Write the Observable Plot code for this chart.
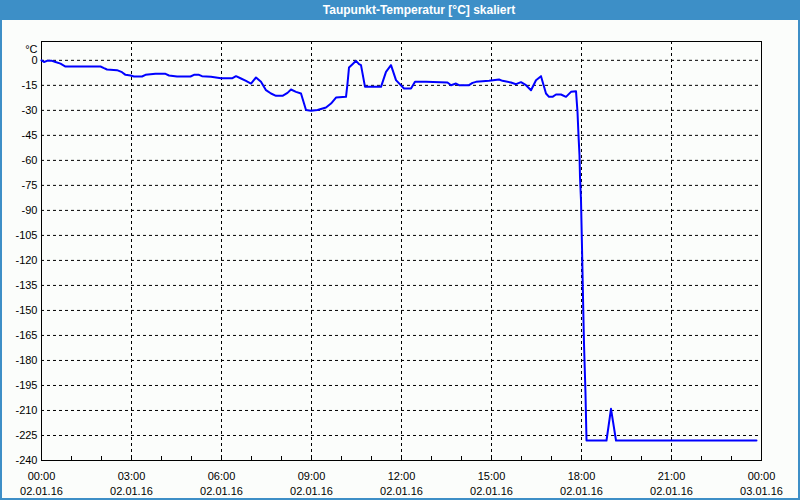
<!DOCTYPE html>
<html>
<head>
<meta charset="utf-8">
<script src="https://cdn.jsdelivr.net/npm/d3@7"></script>
<script src="https://cdn.jsdelivr.net/npm/@observablehq/plot@0.6"></script>
<style>
  html, body { margin: 0; padding: 0; background: #ffffff; }
  #wrap { position: relative; width: 800px; height: 500px; background: #fbfdfb; overflow: hidden; font-family: "Liberation Sans", Arial, sans-serif; }
  #titlebar { position: absolute; left: 0; top: 0; width: 800px; height: 20px; background: #3d8fc7; }
  #title { position: absolute; left: 419px; top: 3px; transform: translateX(-50%); color: #ffffff; font-weight: bold; font-size: 12px; white-space: nowrap; line-height: 14px; }
  #chart { position: absolute; left: 0; top: 20px; }
  #border { position: absolute; left: 0; top: 0; width: 796px; height: 498px; border-left: 2px solid #3d8fc7; border-right: 2px solid #3d8fc7; border-bottom: 2px solid #3d8fc7; pointer-events: none; }
</style>
</head>
<body>
<div id="wrap">
  <div id="titlebar"><div id="title">Taupunkt-Temperatur [°C] skaliert</div></div>
  <div id="chart"></div>
  <div id="border"></div>
</div>
<script>
// ---- data ----
const times = ["00:00","00:05","00:11","00:21","00:28","00:38","00:48","01:58","02:05","02:11",
  "02:31","02:41","02:48","02:58","03:05","03:21","03:28","03:48","04:08","04:15",
  "04:31","04:58","05:05","05:15","05:21","05:39","05:59","06:22","06:29","06:39",
  "06:49","06:59","07:09","07:19","07:29","07:39","07:49","08:02","08:12","08:19",
  "08:29","08:39","08:49","08:59","09:12","09:29","09:39","09:49","10:09","10:12",
  "10:15","10:22","10:29","10:35","10:39","10:47","11:19","11:29","11:39","11:49",
  "12:05","12:19","12:27","12:49","13:32","13:39","13:49","13:55","14:15","14:22",
  "14:29","14:55","15:15","15:22","15:39","15:49","15:59","16:09","16:19","16:29",
  "16:39","16:49","16:55","17:02","17:09","17:19","17:29","17:39","17:49","17:52",
  "17:54","17:56","17:57","17:59","18:01","18:03","18:05","18:08","18:10","18:50",
  "18:59","19:09","23:50"];
const dewpoint = [0,-1,-0.3,-0.3,-1,-2,-3.7,-3.7,-4.7,-5.5,
  -5.9,-7.1,-8.7,-9.1,-9.7,-9.7,-8.7,-8.1,-8.1,-9.1,
  -9.7,-9.7,-8.7,-8.7,-9.5,-9.9,-10.7,-10.7,-9.5,-10.9,
  -12.3,-13.9,-10.3,-12.9,-17.9,-19.9,-21.3,-21.3,-19.5,-17.5,
  -18.9,-19.9,-29.8,-30.2,-29.8,-28.3,-25.9,-22.3,-21.9,-13.9,
  -4.3,-2.3,-0.3,-2.3,-2.9,-15.9,-15.9,-6.9,-2.9,-11.9,
  -16.9,-16.9,-12.9,-12.9,-13.3,-14.9,-13.9,-14.9,-14.9,-13.5,
  -12.9,-12.3,-11.5,-12.3,-13.3,-14.3,-13.1,-14.9,-17.9,-11.9,
  -9.5,-19.9,-21.9,-21.9,-20.5,-20.5,-21.9,-18.9,-18.5,-31,
  -45,-57,-70,-84,-112,-142,-170,-200,-228,-228,
  -209,-228,-228];
const xMajorTicks = [0,180,360,540,720,900,1080,1260,1440];
const xTickLabels = ["00:00\n02.01.16","03:00\n02.01.16","06:00\n02.01.16","09:00\n02.01.16",
  "12:00\n02.01.16","15:00\n02.01.16","18:00\n02.01.16","21:00\n02.01.16","00:00\n03.01.16"];
const xHourTicks = d3.range(0, 1441, 60);
const yTicks = [0,-15,-30,-45,-60,-75,-90,-105,-120,-135,-150,-165,-180,-195,-210,-225,-240];
const yUnit = "°C";

const toMin = s => { const [h, m] = s.split(":").map(Number); return h * 60 + m; };
const data = times.map((t, i) => ({ t: toMin(t), v: dewpoint[i] }));

const chart = Plot.plot({
  width: 800,
  height: 480,
  marginLeft: 41,
  marginRight: 39,
  marginTop: 21,
  marginBottom: 40,
  style: { fontFamily: "'Liberation Sans', Arial, sans-serif", fontSize: "11px", background: "transparent", color: "#000" },
  x: { type: "linear", domain: [0, 1440] },
  y: { domain: [-240, 11.3] },
  marks: [
    Plot.gridX(xMajorTicks, { stroke: "#000", strokeOpacity: 1, strokeDasharray: "3,3" }),
    Plot.gridY(yTicks, { stroke: "#000", strokeOpacity: 1, strokeDasharray: "3,3" }),
    Plot.axisX(xHourTicks, { anchor: "bottom", tickSize: -4, tickFormat: () => "", label: null, stroke: "#000" }),
    Plot.axisX(xMajorTicks, { anchor: "bottom", tickSize: 0, tickPadding: 9, tickFormat: (d, i) => xTickLabels[xMajorTicks.indexOf(d)], lineHeight: 1.36, label: null, fill: "#000" }),
    Plot.axisY(yTicks, { anchor: "left", tickSize: 0, tickPadding: 4, label: null, fill: "#000", tickFormat: d => String(d) }),
    Plot.text([yUnit], { frameAnchor: "top-left", text: d => d, textAnchor: "end", dx: -4, dy: 4, fill: "#000" }),
    Plot.frame({ stroke: "#000" }),
    Plot.line(data, { x: "t", y: "v", stroke: "#0000ff", strokeWidth: 2 })
  ]
});
document.getElementById("chart").appendChild(chart);
</script>
</body>
</html>
